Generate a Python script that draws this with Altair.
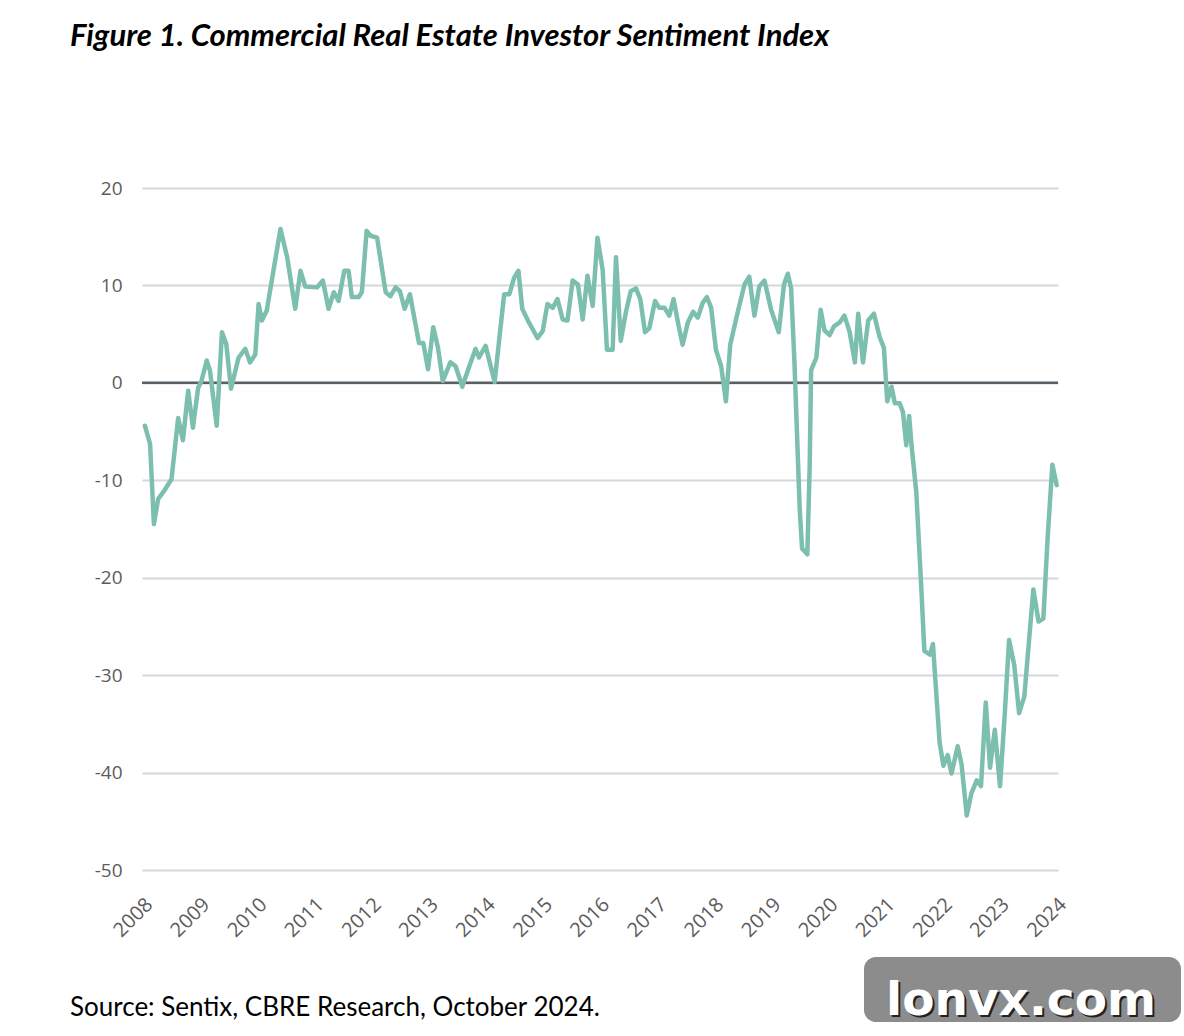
import altair as alt
import pandas as pd

# Commercial real estate investor sentiment index (Sentix), traced month offsets from Jan 2008
months_since_2008 = [
    0.6, 1.7, 2.5, 3.4, 4.5, 6.2, 7.6, 8.6, 9.7, 10.7, 11.8, 12.5, 13.6, 14.3, 15.7,
    16.8, 17.7, 18.7, 20.3, 21.7, 22.7, 23.8, 24.5, 25.2, 26.2, 29.1, 30.5, 32.2, 33.3,
    34.3, 36.8, 38.0, 39.2, 40.3, 41.3, 42.5, 43.4, 44.1, 45.5, 46.2, 47.2, 48.0, 49.4,
    51.2, 52.2, 53.3, 54.2, 55.2, 56.3, 58.2, 59.1, 60.1, 61.2, 62.2, 63.2, 64.8, 65.9,
    67.3, 68.7, 70.1, 70.8, 72.2, 74.1, 76.1, 77.2, 78.2, 79.1, 79.9, 81.3, 83.1, 84.2,
    85.2, 86.3, 87.3, 88.4, 89.4, 90.5, 91.6, 92.6, 93.6, 94.7, 95.7, 96.8, 97.7, 98.9,
    99.6, 100.6, 101.7, 102.7, 103.8, 104.7, 105.7, 106.6, 107.8, 108.7, 109.8, 110.8,
    111.7, 112.7, 113.6, 114.7, 115.8, 116.8, 117.8, 118.7, 119.6, 120.6, 121.7, 122.7,
    123.6, 125.2, 126.6, 127.6, 128.7, 129.7, 130.8, 132.2, 133.8, 134.9, 135.7, 136.4,
    137.1, 138.2, 138.7, 139.8, 140.3, 140.6, 141.7, 142.6, 143.4, 144.5, 145.4, 146.6,
    147.6, 148.7, 149.8, 150.5, 151.5, 152.6, 153.8, 155.0, 155.9, 156.6, 157.5, 158.2,
    159.2, 159.9, 160.6, 161.2, 161.7, 162.7, 163.8, 164.4, 165.6, 166.2, 167.6, 168.4,
    169.3, 170.1, 171.4, 172.2, 173.3, 174.3, 175.4, 176.3, 177.3, 178.2, 179.2, 180.3,
    181.3, 182.2, 183.3, 184.3, 185.4, 187.3, 188.4, 189.4, 190.3, 191.3, 192.2,
]
index_values = [
    -4.4, -6.3, -14.5, -11.9, -11.2, -9.9, -3.6, -5.9, -0.8, -4.6, -0.5, 0.2, 2.3, 1.2, -4.4,
    5.2, 4.0, -0.6, 2.6, 3.5, 2.1, 2.9, 8.1, 6.4, 7.4, 15.8, 12.9, 7.6, 11.5,
    9.9, 9.8, 10.5, 7.6, 9.3, 8.4, 11.5, 11.5, 8.8, 8.8, 9.3, 15.6, 15.1, 14.9,
    9.3, 8.9, 9.8, 9.4, 7.6, 9.1, 4.1, 4.1, 1.4, 5.7, 3.6, 0.2, 2.1, 1.7,
    -0.4, 1.6, 3.5, 2.6, 3.8, 0.1, 9.1, 9.1, 10.8, 11.5, 7.6, 6.2, 4.6, 5.3,
    8.1, 7.7, 8.6, 6.5, 6.4, 10.5, 10.1, 6.5, 11.0, 7.9, 14.9, 11.6, 3.4, 3.4,
    12.9, 4.3, 7.3, 9.4, 9.7, 8.6, 5.2, 5.6, 8.4, 7.7, 7.7, 6.9,
    8.6, 6.0, 3.9, 6.2, 7.3, 6.7, 8.2, 8.8, 7.7, 3.4, 1.7, -1.9,
    3.9, 7.3, 10.1, 10.9, 6.9, 9.9, 10.5, 7.5, 5.2, 10.1, 11.2, 9.7,
    2.1, -12.9, -17.0, -17.6, -8.6, 1.3, 2.6, 7.5, 5.4, 4.9, 5.8, 6.2,
    6.9, 5.2, 2.1, 7.1, 2.1, 6.4, 7.1, 4.7, 3.6, -1.9, -0.4, -2.1,
    -2.1, -3.0, -6.4, -3.4, -6.4, -11.2, -21.5, -27.5, -27.9, -26.8, -36.9, -39.3,
    -38.2, -40.1, -37.3, -39.1, -44.4, -42.1, -40.8, -41.4, -32.8, -39.5, -35.6, -41.4,
    -33.9, -26.4, -29.0, -33.9, -32.2, -21.2, -24.5, -24.2, -15.9, -8.4, -10.5,
]

year_ticks = list(range(2008, 2025))
value_ticks = [20, 10, 0, -10, -20, -30, -40, -50]

title_text = "Figure 1. Commercial Real Estate Investor Sentiment Index"
source_text = "Source: Sentix, CBRE Research, October 2024."
badge_text = "lonvx.com"

df = pd.DataFrame({
    "year": [2008 + m / 12 for m in months_since_2008],
    "value": index_values,
})

x_scale = alt.Scale(domain=[2008, 2024.04], nice=False, zero=False)
y_scale = alt.Scale(domain=[-50, 20], nice=False, zero=False)

# plain hyphen for negative tick labels
y_axis = alt.Axis(
    values=value_ticks, grid=True, gridColor="#d3d7da", gridWidth=2,
    domain=False, ticks=False, labelPadding=20, title=None,
    labelFont="Open Sans", labelFontSize=19, labelColor="#5c5c5c",
    labelExpr="datum.value < 0 ? '-' + abs(datum.value) : '' + datum.value",
)
x_axis = alt.Axis(
    values=year_ticks, format="d", labelAngle=-45, grid=False, domain=False,
    ticks=False, labelPadding=24, title=None, labelFont="Open Sans",
    labelFontSize=20, labelColor="#5c5c5c", labelOverlap=False,
)

# horizontal reference line at zero, drawn beneath the series
zero_line = alt.Chart(pd.DataFrame({"value": [0]})).mark_rule(
    color="#596065", strokeWidth=2.5
).encode(y=alt.Y("value:Q", scale=y_scale, axis=y_axis))

line = alt.Chart(df).mark_line(
    color="#7dbfae", strokeWidth=4.5, strokeJoin="round", strokeCap="round"
).encode(
    x=alt.X("year:Q", scale=x_scale, axis=x_axis),
    y=alt.Y("value:Q", scale=y_scale, axis=y_axis),
)

title = alt.Chart(pd.DataFrame({"t": [title_text]})).mark_text(
    align="left", baseline="alphabetic", font="Lato", fontSize=31,
    fontWeight="bold", fontStyle="italic", color="#000000",
).encode(x=alt.value(-72), y=alt.value(-142), text="t:N")

source = alt.Chart(pd.DataFrame({"t": [source_text]})).mark_text(
    align="left", baseline="alphabetic", font="Lato", fontSize=26, color="#000000",
).encode(x=alt.value(-72), y=alt.value(828), text="t:N")

badge_box = alt.Chart(pd.DataFrame({"t": [badge_text]})).mark_rect(
    color="#8c8c8c", cornerRadius=12
).encode(x=alt.value(722), x2=alt.value(1039), y=alt.value(769), y2=alt.value(834))

badge_shadow = alt.Chart(pd.DataFrame({"t": [badge_text]})).mark_text(
    align="center", baseline="alphabetic", font="DejaVu Sans", fontSize=47,
    fontWeight="bold", color="#222222",
).encode(x=alt.value(881), y=alt.value(829), text="t:N")

badge_label = alt.Chart(pd.DataFrame({"t": [badge_text]})).mark_text(
    align="center", baseline="alphabetic", font="DejaVu Sans", fontSize=47,
    fontWeight="bold", color="#ffffff",
).encode(x=alt.value(879), y=alt.value(827), text="t:N")

chart = alt.layer(
    zero_line, line, title, source, badge_box, badge_shadow, badge_label
).properties(
    width=916, height=682,
    autosize=alt.AutoSizeParams(type="none"),
    padding={"left": 142, "top": 188, "right": 126, "bottom": 166},
    background="white",
).configure_view(stroke=None)

chart.save("out.html", embed_options={"renderer": "svg", "actions": False})
